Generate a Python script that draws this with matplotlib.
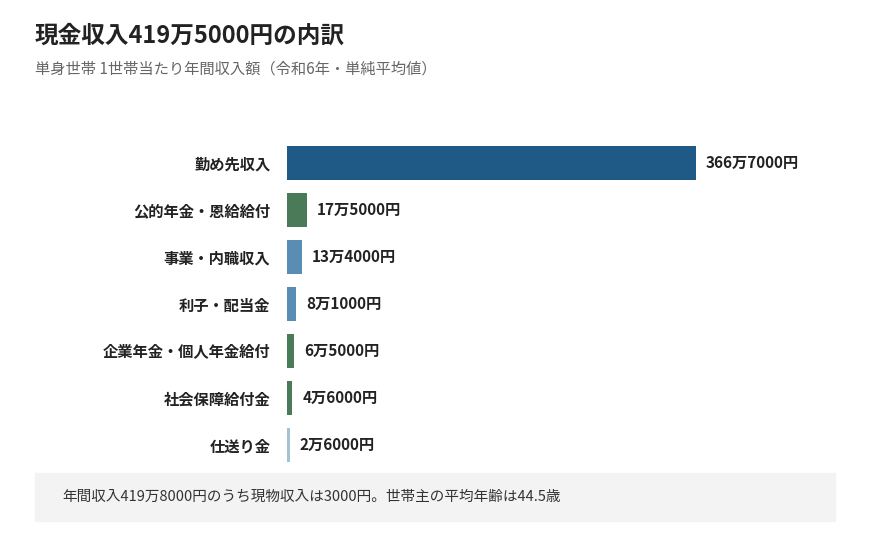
import matplotlib.pyplot as plt
from matplotlib.patches import Rectangle

plt.rcParams['font.family'] = ['Noto Sans CJK JP', 'DejaVu Sans']

categories = ["勤め先収入", "公的年金・恩給給付", "事業・内職収入", "利子・配当金",
              "企業年金・個人年金給付", "社会保障給付金", "仕送り金"]
values = [3667000, 175000, 134000, 81000, 65000, 46000, 26000]
value_labels = ["366万7000円", "17万5000円", "13万4000円", "8万1000円",
                "6万5000円", "4万6000円", "2万6000円"]
colors = ["#1f5a87", "#4a7a58", "#5a8db3", "#5a8db3", "#4a7a58", "#4a7a58", "#a3c3d3"]

W, H = 870, 541
fig = plt.figure(figsize=(W / 100, H / 100), dpi=100)

# axes area in pixels: x 287..830, y 139.5..468.5
ax = fig.add_axes([287 / W, 1 - 468.5 / H, (830 - 287) / W, 329 / H])
ypos = list(range(len(categories)))
ax.barh(ypos, values, height=0.72, color=colors)
ax.set_xlim(0, values[0] * (830 - 287) / (696 - 287))
ax.set_ylim(len(categories) - 0.5, -0.5)
ax.set_yticks(ypos)
ax.set_yticklabels(categories, fontsize=11, fontweight='bold', color='#222222')
ax.tick_params(axis='y', length=0, pad=12)
ax.set_xticks([])
for s in ax.spines.values():
    s.set_visible(False)
off = values[0] * 10 / 409
for y, v, lab in zip(ypos, values, value_labels):
    ax.text(v + off, y, lab, va='center', ha='left', fontsize=11,
            fontweight='bold', color='#222222')

fig.text(35 / W, 1 - 36 / H, "現金収入419万5000円の内訳", fontsize=17,
         fontweight='bold', va='center', ha='left', color='#222222')
fig.text(35 / W, 1 - 69 / H, "単身世帯 1世帯当たり年間収入額（令和6年・単純平均値）",
         fontsize=11, va='center', ha='left', color='#666666')

fig.patches.append(Rectangle((35 / W, 1 - 521 / H), 800 / W, 48 / H,
                             transform=fig.transFigure, color='#f3f3f3', zorder=0))
fig.text(62 / W, 1 - 497 / H, "年間収入419万8000円のうち現物収入は3000円。世帯主の平均年齢は44.5歳",
         fontsize=10.5, va='center', ha='left', color='#333333')

fig.savefig("out.png", dpi=100)
